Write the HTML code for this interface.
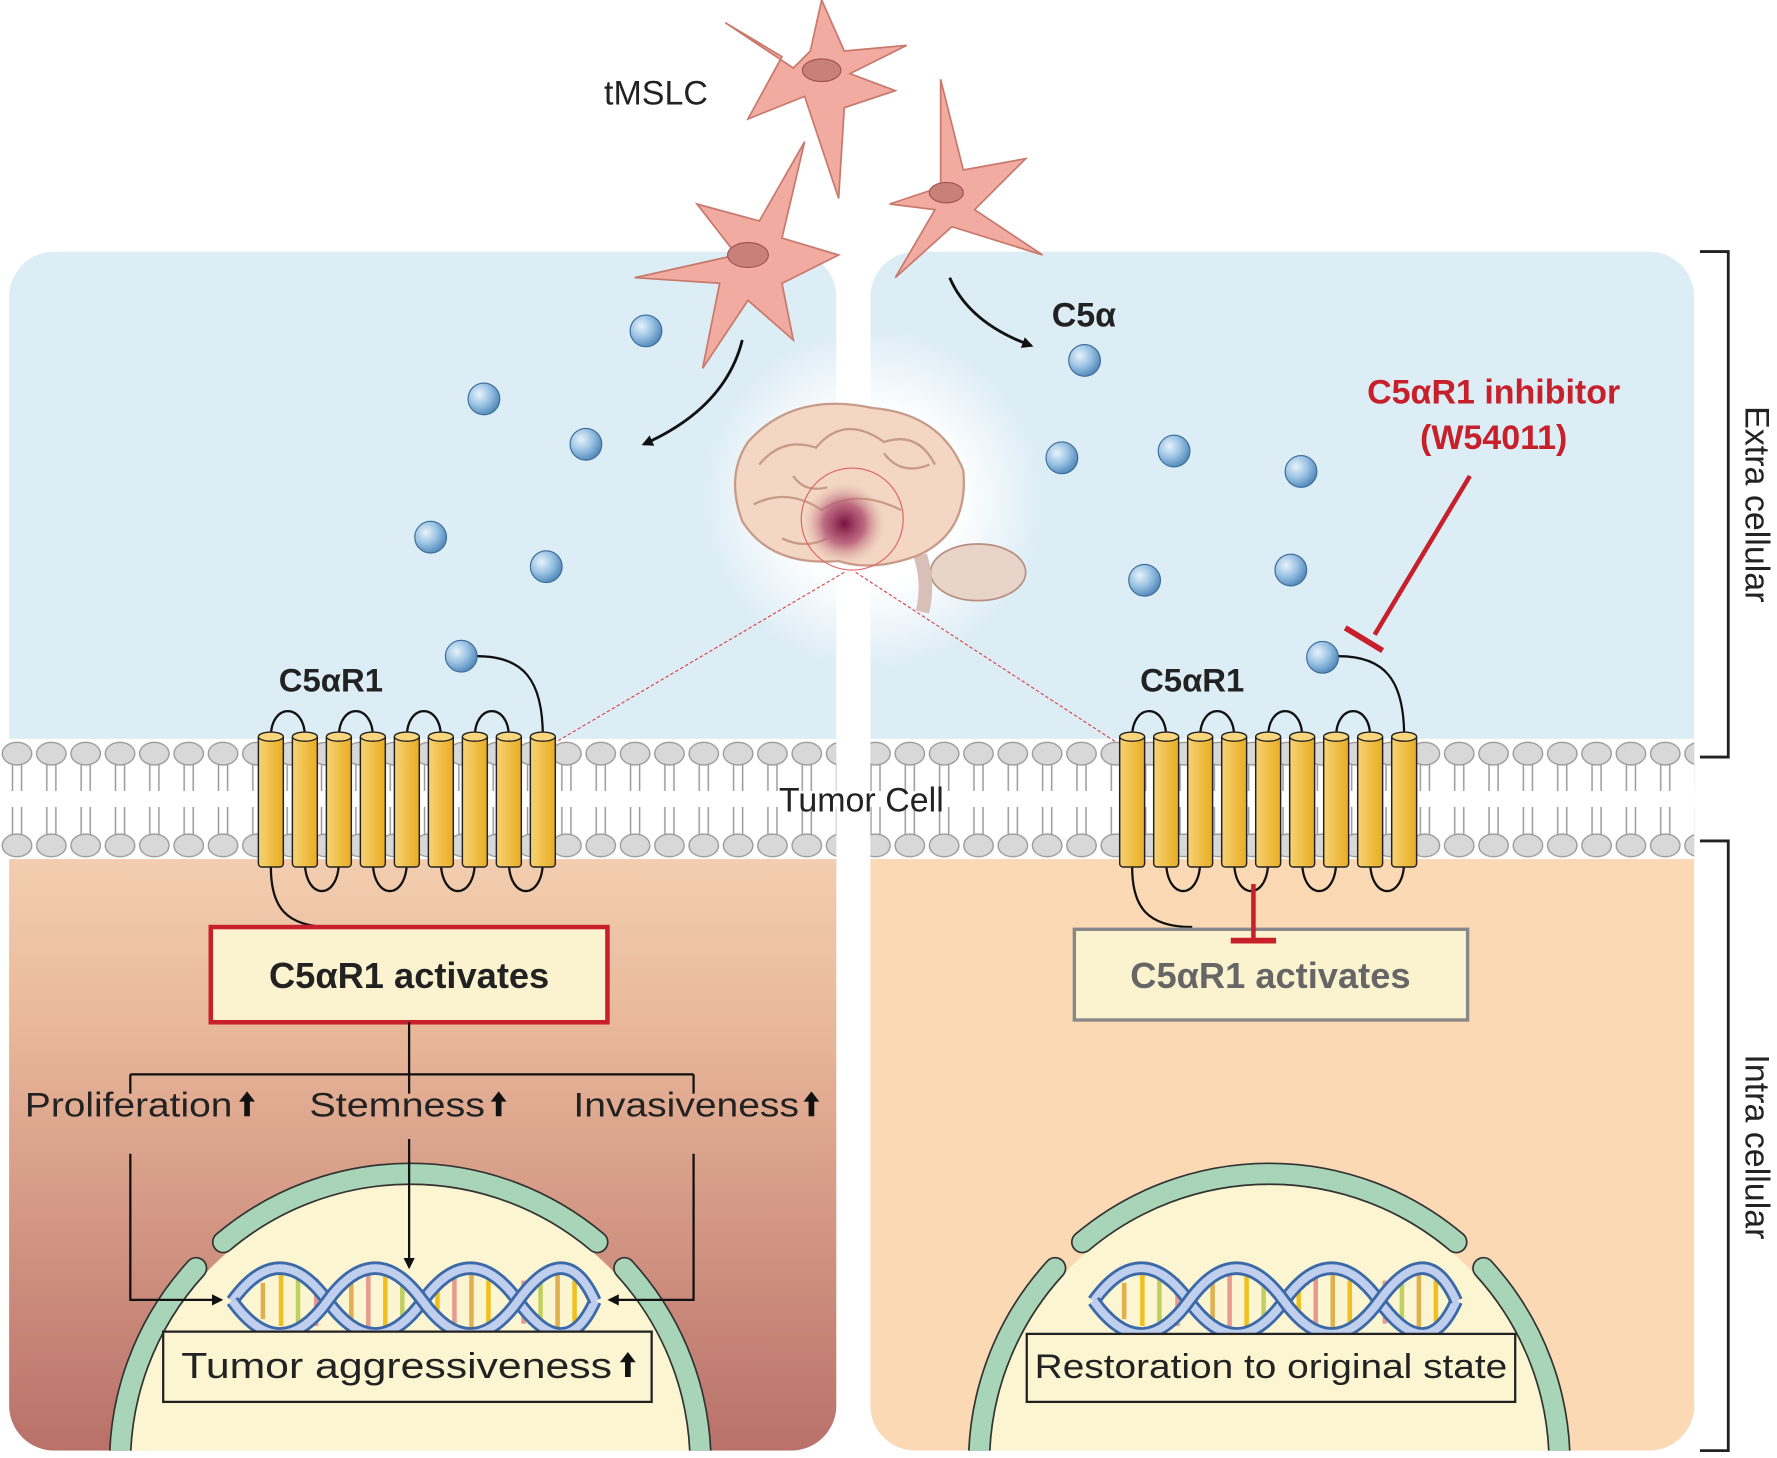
<!DOCTYPE html>
<html><head><meta charset="utf-8"><style>
html,body{margin:0;padding:0;background:#fff;width:1777px;height:1458px;overflow:hidden}
svg{display:block}
text{font-family:"Liberation Sans",Arial,sans-serif}
</style></head><body>
<svg width="1777" height="1458" viewBox="0 0 1568 1286.5" xmlns="http://www.w3.org/2000/svg">
<defs>
<linearGradient id="lg" x1="0" y1="0" x2="0" y2="1">
<stop offset="0" stop-color="#f7d6b8"/><stop offset="0.35" stop-color="#e9b89a"/><stop offset="1" stop-color="#b9716a"/>
</linearGradient>
<linearGradient id="cyl" x1="0" x2="1">
<stop offset="0" stop-color="#f7d276"/><stop offset="1" stop-color="#e9ad20"/>
</linearGradient>
<radialGradient id="ball" cx="0.35" cy="0.35" r="0.7">
<stop offset="0" stop-color="#e8f3fb"/><stop offset="0.5" stop-color="#9cc4e4"/><stop offset="1" stop-color="#4f86b8"/>
</radialGradient>
<radialGradient id="glow">
<stop offset="0.5" stop-color="#fff" stop-opacity="1"/><stop offset="1" stop-color="#fff" stop-opacity="0"/>
</radialGradient>
<radialGradient id="tum">
<stop offset="0" stop-color="#7a1040"/><stop offset="0.5" stop-color="#b05070" stop-opacity="0.8"/><stop offset="1" stop-color="#e0b0a0" stop-opacity="0"/>
</radialGradient>
<pattern id="lip" x="0" y="650" width="30.3" height="110" patternUnits="userSpaceOnUse">
<path d="M11,20 V48 M19,20 V48 M11,62 V88 M19,62 V88" stroke="#999" stroke-width="1.3" fill="none"/>
<ellipse cx="15" cy="15" rx="13" ry="10" fill="#d8d8d8" stroke="#999" stroke-width="1.2"/>
<ellipse cx="15" cy="96" rx="13" ry="10" fill="#d8d8d8" stroke="#999" stroke-width="1.2"/>
</pattern>
<g id="cy">
<rect x="0" y="648" width="22" height="117" rx="3" fill="url(#cyl)" stroke="#222" stroke-width="1.3"/>
<ellipse cx="11" cy="650" rx="11" ry="4" fill="#f8d67e" stroke="#222" stroke-width="1.2"/>
</g>
<g id="rec">
<path d="M239,650 C239,620 269,620 269,650 M299,650 C299,620 329,620 329,650 M359,650 C359,620 389,620 389,650 M419,650 C419,620 449,620 449,650 M269,760 C269,795 299,795 299,760 M329,760 C329,795 359,795 359,760 M389,760 C389,795 419,795 419,760 M449,760 C449,795 479,795 479,760 M479,650 C479,600 462,579 421,579 M239,765 C239,800 252,818 292,818" fill="none" stroke="#111" stroke-width="2"/>
<use href="#cy" x="228"/><use href="#cy" x="258"/><use href="#cy" x="288"/><use href="#cy" x="318"/><use href="#cy" x="348"/><use href="#cy" x="378"/><use href="#cy" x="408"/><use href="#cy" x="438"/><use href="#cy" x="468"/>
</g>
<g id="dna">
<g stroke-width="4">
<line x1="232" y1="1132" x2="232" y2="1164" stroke="#e0b050"/>
<line x1="248" y1="1125" x2="248" y2="1170" stroke="#f0c020"/>
<line x1="263" y1="1122" x2="263" y2="1174" stroke="#c0d060"/>
<line x1="279" y1="1128" x2="279" y2="1170" stroke="#e89a90"/>
<line x1="310" y1="1130" x2="310" y2="1168" stroke="#e0b050"/>
<line x1="325" y1="1122" x2="325" y2="1174" stroke="#e89a90"/>
<line x1="340" y1="1122" x2="340" y2="1174" stroke="#f0c020"/>
<line x1="355" y1="1130" x2="355" y2="1168" stroke="#c0d060"/>
<line x1="386" y1="1130" x2="386" y2="1168" stroke="#f0c020"/>
<line x1="401" y1="1122" x2="401" y2="1174" stroke="#e89a90"/>
<line x1="416" y1="1122" x2="416" y2="1174" stroke="#e0b050"/>
<line x1="431" y1="1130" x2="431" y2="1168" stroke="#f0c020"/>
<line x1="462" y1="1130" x2="462" y2="1168" stroke="#e89a90"/>
<line x1="477" y1="1122" x2="477" y2="1174" stroke="#c0d060"/>
<line x1="492" y1="1122" x2="492" y2="1174" stroke="#e0b050"/>
<line x1="507" y1="1130" x2="507" y2="1168" stroke="#f0c020"/>
</g>
<path d="M205,1148 Q247,1090 289,1148 T373,1148 T457,1148 T525,1148" fill="none" stroke="#3c6aa8" stroke-width="12"/>
<path d="M205,1148 Q247,1090 289,1148 T373,1148 T457,1148 T525,1148" fill="none" stroke="#c0cfee" stroke-width="7"/>
<path d="M205,1148 Q247,1206 289,1148 T373,1148 T457,1148 T525,1148" fill="none" stroke="#3c6aa8" stroke-width="12"/>
<path d="M205,1148 Q247,1206 289,1148 T373,1148 T457,1148 T525,1148" fill="none" stroke="#c0cfee" stroke-width="7"/>
</g>
<g id="nuc">
<circle cx="362" cy="1292" r="247" fill="#fbf5d2"/>
<path d="M197,1096 A256,256 0 0 1 527,1096 M173,1119 A256,256 0 0 0 106,1300 M551,1119 A256,256 0 0 1 618,1300" fill="none" stroke="#333" stroke-width="20" stroke-linecap="round"/>
<path d="M197,1096 A256,256 0 0 1 527,1096 M173,1119 A256,256 0 0 0 106,1300 M551,1119 A256,256 0 0 1 618,1300" fill="none" stroke="#a8d5b8" stroke-width="17" stroke-linecap="round"/>
</g>
<clipPath id="cl"><rect x="8" y="222" width="730" height="1058" rx="40"/></clipPath>
<clipPath id="cr"><rect x="768" y="222" width="727" height="1058" rx="40"/></clipPath>
<marker id="ah" markerWidth="10" markerHeight="10" refX="8" refY="5" orient="auto" markerUnits="userSpaceOnUse"><path d="M0,0 L10,5 L0,10 z" fill="#111"/></marker>
<path id="up" d="M0,0 L7,9 L2.5,9 L2.5,22 L-2.5,22 L-2.5,9 L-7,9 Z" fill="#111"/>
</defs>

<g clip-path="url(#cl)">
<rect x="8" y="222" width="730" height="1058" fill="#ddedf6"/>
<rect x="8" y="700" width="730" height="580" fill="url(#lg)"/>
<use href="#nuc"/>
</g>
<g clip-path="url(#cr)">
<rect x="768" y="222" width="727" height="1058" fill="#ddedf6"/>
<rect x="768" y="700" width="727" height="580" fill="#fad9b4"/>
<use href="#nuc" x="758"/>
</g>

<rect x="0" y="652" width="738" height="106" fill="#fff"/>
<rect x="768" y="652" width="727" height="106" fill="#fff"/>
<rect x="0" y="650" width="738" height="110" fill="url(#lip)"/>
<rect x="768" y="650" width="727" height="110" fill="url(#lip)"/>

<circle cx="770" cy="440" r="150" fill="url(#glow)"/>
<ellipse cx="863" cy="505" rx="42" ry="25" fill="#e8d4c8" stroke="#b89080" stroke-width="1.5"/>
<path d="M812,490 q8,25 2,50" stroke="#d8c0b8" stroke-width="12" fill="none"/>
<path d="M660,390 q40,-45 110,-30 q60,5 80,55 q5,55 -40,75 q-40,15 -70,5 q-60,5 -85,-35 q-15,-40 5,-70 z" fill="#f3d6c4" stroke="#c89a88" stroke-width="2"/>
<path d="M670,410 q20,-25 50,-15 q25,-30 60,-5 q30,-10 45,20 M665,445 q30,-15 60,5 q30,-20 70,0 M690,475 q20,10 40,0 M780,400 q15,20 40,10 M700,420 q10,15 30,10" fill="none" stroke="#c89a88" stroke-width="2"/>
<circle cx="745" cy="462" r="36" fill="url(#tum)"/>
<circle cx="752" cy="458" r="45" fill="none" stroke="#e06060" stroke-width="1"/>
<line x1="745" y1="505" x2="490" y2="655" stroke="#e04040" stroke-width="1" stroke-dasharray="3 2"/>
<line x1="755" y1="505" x2="985" y2="655" stroke="#e04040" stroke-width="1" stroke-dasharray="3 2"/>

<g fill="#f1aba0" stroke="#c9786c" stroke-width="1.5">
<path d="M700,60 L640,20 L690,50 L660,105 L710,85 L740,175 L745,95 L790,80 L750,65 L800,40 L745,45 L725,0 L715,45 Z"/>
<path d="M650,225 L560,245 L635,250 L620,325 L660,265 L700,300 L690,250 L740,225 L690,210 L710,125 L670,195 L615,180 Z"/>
<path d="M830,165 L785,180 L825,185 L790,245 L840,200 L920,225 L860,185 L905,140 L850,150 L830,70 Z"/>
</g>
<g fill="#c98078" stroke="#a05050">
<ellipse cx="725" cy="62" rx="17" ry="10"/><ellipse cx="660" cy="225" rx="18" ry="11"/><ellipse cx="835" cy="170" rx="15" ry="9"/>
</g>
<text x="533" y="92" font-size="30" fill="#222">tMSLC</text>

<path d="M655,300 Q640,360 568,392" fill="none" stroke="#111" stroke-width="2.5" marker-end="url(#ah)"/>
<path d="M838,245 Q855,285 910,305" fill="none" stroke="#111" stroke-width="2.5" marker-end="url(#ah)"/>
<text x="928" y="288" font-size="30" font-weight="bold" fill="#222">C5α</text>

<use href="#rec"/>
<use href="#rec" x="760"/>

<g fill="url(#ball)" stroke="#3a6a98" stroke-width="1">
<circle cx="570" cy="292" r="14"/><circle cx="427" cy="352" r="14"/><circle cx="517" cy="392" r="14"/>
<circle cx="380" cy="474" r="14"/><circle cx="482" cy="500" r="14"/><circle cx="407" cy="579" r="14"/>
<circle cx="957" cy="318" r="14"/><circle cx="937" cy="404" r="14"/><circle cx="1036" cy="398" r="14"/>
<circle cx="1148" cy="416" r="14"/><circle cx="1010" cy="512" r="14"/><circle cx="1139" cy="503" r="14"/><circle cx="1167" cy="580" r="14"/>
</g>

<text x="1318" y="356" font-size="30" font-weight="bold" fill="#c8202a" text-anchor="middle">C5αR1 inhibitor</text>
<text x="1318" y="396" font-size="30" font-weight="bold" fill="#c8202a" text-anchor="middle">(W54011)</text>
<line x1="1297" y1="420" x2="1213" y2="560" stroke="#c8202a" stroke-width="4"/>
<line x1="1187" y1="554" x2="1220" y2="574" stroke="#c8202a" stroke-width="5"/>

<text x="246" y="610" font-size="29" font-weight="bold" fill="#222">C5αR1</text>
<text x="1006" y="610" font-size="29" font-weight="bold" fill="#222">C5αR1</text>
<text x="760" y="716" font-size="30" fill="#222" text-anchor="middle">Tumor Cell</text>

<rect x="186" y="818" width="350" height="84" fill="#fbf3cf" stroke="#c8202a" stroke-width="4"/>
<text x="361" y="872" font-size="32" font-weight="bold" fill="#222" text-anchor="middle">C5αR1 activates</text>
<rect x="948" y="820" width="347" height="80" fill="#fbf3cf" stroke="#888" stroke-width="3"/>
<text x="1121" y="872" font-size="32" font-weight="bold" fill="#666" text-anchor="middle">C5αR1 activates</text>
<line x1="1106" y1="780" x2="1106" y2="828" stroke="#c8202a" stroke-width="4"/>
<line x1="1086" y1="830" x2="1126" y2="830" stroke="#c8202a" stroke-width="5"/>

<g stroke="#111" stroke-width="2" fill="none">
<path d="M361,902 V948 M115,948 H612 M115,948 V965 M361,948 V965 M612,948 V965"/>
<path d="M115,1018 V1147 H195" marker-end="url(#ah)"/>
<path d="M361,1005 V1118" marker-end="url(#ah)"/>
<path d="M612,1018 V1147 H538" marker-end="url(#ah)"/>
</g>
<text x="22" y="985" font-size="30" fill="#222" textLength="183" lengthAdjust="spacingAndGlyphs">Proliferation</text>
<use href="#up" x="218" y="963"/>
<text x="273" y="985" font-size="30" fill="#222" textLength="155" lengthAdjust="spacingAndGlyphs">Stemness</text>
<use href="#up" x="440" y="963"/>
<text x="506" y="985" font-size="30" fill="#222" textLength="199" lengthAdjust="spacingAndGlyphs">Invasiveness</text>
<use href="#up" x="716" y="963"/>

<use href="#dna"/>
<use href="#dna" x="760"/>

<rect x="144" y="1175" width="431" height="62" fill="#fbf5d2" stroke="#222" stroke-width="2"/>
<text x="160" y="1216" font-size="32" fill="#222" textLength="380" lengthAdjust="spacingAndGlyphs">Tumor aggressiveness</text>
<use href="#up" x="554" y="1193"/>
<rect x="906" y="1177" width="431" height="60" fill="#fbf5d2" stroke="#222" stroke-width="2"/>
<text x="913" y="1216" font-size="30" fill="#222" textLength="417" lengthAdjust="spacingAndGlyphs">Restoration to original state</text>

<path d="M1500,222 H1525 V668 H1500 M1500,742 H1525 V1280 H1500" fill="none" stroke="#222" stroke-width="2.5"/>
<text transform="translate(1540,445) rotate(90)" font-size="30" fill="#222" text-anchor="middle">Extra cellular</text>
<text transform="translate(1540,1012) rotate(90)" font-size="30" fill="#222" text-anchor="middle">Intra cellular</text>
</svg>
</body></html>
